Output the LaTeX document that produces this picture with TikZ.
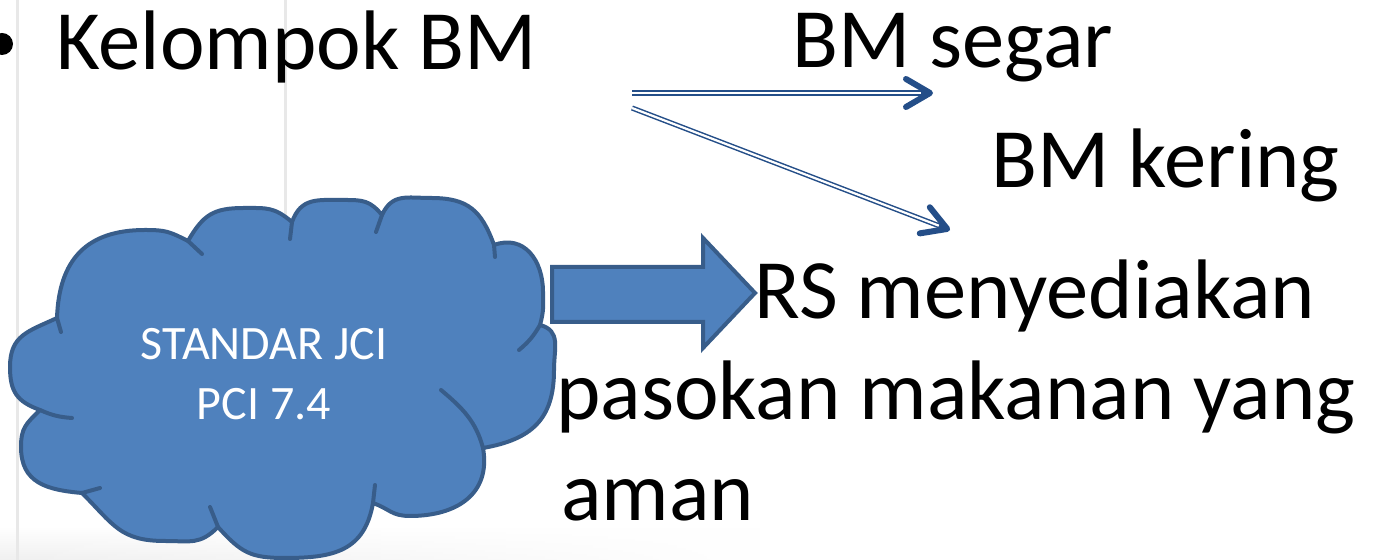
\documentclass[tikz,border=0pt]{standalone}
\usepackage{fontspec}
\setmainfont{Carlito}
\usetikzlibrary{arrows.meta, fadings}
\definecolor{awan}{RGB}{79,129,189}
\definecolor{awangaris}{RGB}{56,93,138}
\definecolor{panah}{RGB}{36,78,136}
\tikzset{
  teks/.style={anchor=base west, inner sep=0pt, font=\fontsize{42.25}{51}\selectfont},
  teksawan/.style={align=center, text=white, inner sep=0pt,
    font=\fontsize{24}{30}\selectfont},
  bentuk/.style={fill=awan, draw=awangaris, line width=2pt, line join=round},
  lipatan/.style={draw=awangaris, line width=2pt, line cap=round},
  panahganda/.style={draw=panah, line width=2.6pt,
    -{Straight Barb[length=12pt, width=14pt, line width=3pt, round]},
    postaction={draw=white, line width=1.1pt, shorten >=6pt, -}},
  garis/.style={draw=black!9, line width=1.5pt}
}
\begin{document}
\begin{tikzpicture}[x=0.5pt, y=0.5pt]
  \useasboundingbox (0,0) rectangle (1374,560);
  \fill[white] (0,0) rectangle (1374,560);
  \shade[top color=white, bottom color=black!6, path fading=east] (0,0) rectangle (760,34);
  \draw[garis] (17,0) -- (17,560);
  \draw[garis] (285,560) -- (285,330);

  % judul dan cabang
  \node[circle, fill=black, inner sep=0pt, minimum size=11pt] (dot) at (2,516) {};
  \node[teks] (kelompok) at (56,490) {Kelompok BM};
  \node[teks] (segar) at (792,492) {BM segar};
  \node[teks] (kering) at (991,372) {BM kering};
  \coordinate (cabang a) at (632,467);
  \coordinate (cabang b) at (632,452);
  \coordinate (ujung segar) at (933,467);
  \coordinate (ujung kering) at (950,330);
  \draw[panahganda] (cabang a) -- (ujung segar);
  \draw[panahganda] (cabang b) -- (ujung kering);

  % awan standar
  \path[bentuk, looseness=1.2] (57,242)
    to[out=88,in=180] (145,330) to[out=0,in=153] (188,319)
    to[out=60,in=180] (244,352) to[out=0,in=140] (292,338)
    to[out=70,in=180] (344,360) to[out=0,in=130] (382,345)
    to[out=65,in=180] (431,362) to[out=0,in=110] (494,315)
    to[out=20,in=90] (543,268) to[out=-90,in=75] (540,235)
    to[out=-15,in=90] (554,190) to[out=-90,in=10] (483,112)
    to[out=-80,in=0] (410,44) to[out=180,in=-20] (373,57)
    to[out=-100,in=0] (285,2) to[out=180,in=-48] (218,33)
    to[out=-135,in=0] (165,19) to[out=180,in=-45] (82,67)
    to[out=175,in=-90] (21,113) to[out=90,in=-135] (40,150)
    to[out=160,in=-90] (10,193) to[out=90,in=205] (57,242) -- cycle;
  \draw[lipatan] (57,242) -- (61,228)
    (40,150) to[bend right=10] (72,142)
    (82,67) -- (100,72)
    (218,33) -- (210,53)
    (373,57) -- (375,75)
    (483,112) to[out=105,in=-40] (441,170)
    (540,235) to[bend left=10] (519,210)
    (494,315) -- (495,303)
    (382,345) -- (376,328)
    (292,338) -- (290,321)
    (188,319) -- (202,306);
  \node[teksawan] (standar) at (264,186) {STANDAR JCI\\PCI 7.4};

  % panah blok ke teks
  \draw[bentuk, line join=miter] (552,293) -- (703,293) -- (703,322) -- (755,267)
    -- (703,212) -- (703,238) -- (552,238) -- cycle;
  \node[teks] (rs) at (754,241) {RS menyediakan};
  \node[teks] (pasokan) at (556,140) {pasokan makanan yang};
  \node[teks] (aman) at (561,39) {aman};
\end{tikzpicture}
\end{document}
